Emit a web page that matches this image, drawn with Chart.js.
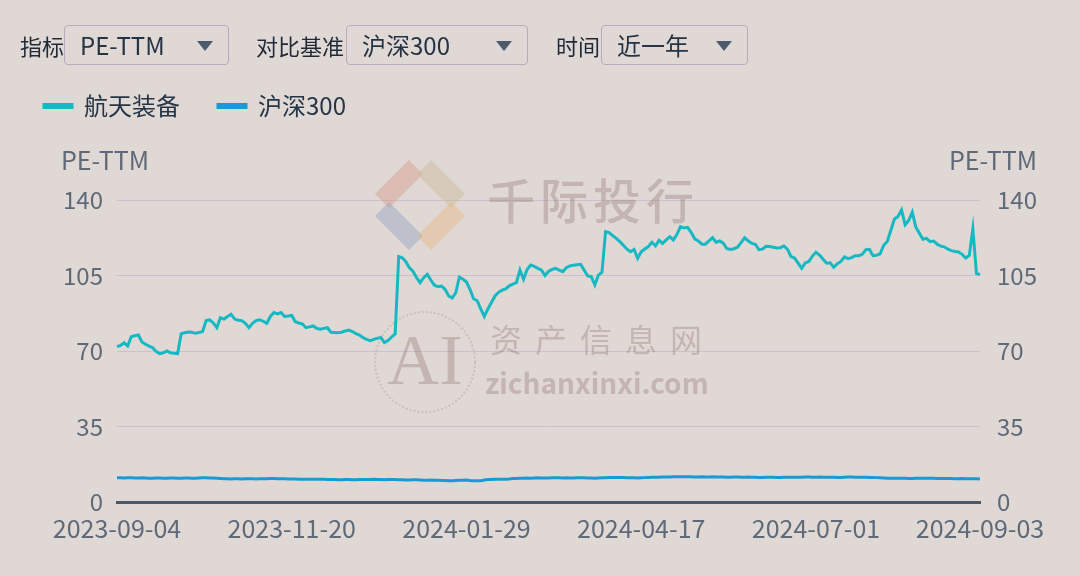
<!DOCTYPE html>
<html>
<head>
<meta charset="utf-8">
<script src="https://cdn.jsdelivr.net/npm/chart.js@4.4.0/dist/chart.umd.min.js"></script>
<style>
  html, body { margin: 0; padding: 0; background: #e0d8d5; width: 1080px; height: 576px; overflow: hidden;
    font-family: "Noto Sans CJK SC", "Noto Sans", sans-serif; }
  #wrap { position: relative; width: 1080px; height: 576px; }
  #chart { position: absolute; left: 0; top: 0; }
  .lbl { position: absolute; top: 25px; height: 40px; line-height: 40px; font-size: 22px; color: #1f2a36; }
  .sel { position: absolute; top: 25px; height: 38px; border: 1px solid #b4acb8; border-radius: 4px;
    font-size: 24px; line-height: 38px; color: #243444; padding-left: 15px; box-sizing: content-box; }
  .sel::after { content: ""; position: absolute; right: 15px; top: 15px; border-left: 8px solid transparent;
    border-right: 8px solid transparent; border-top: 10px solid #4b5b6b; }
</style>
</head>
<body>
<div id="wrap">
  <canvas id="chart" width="1080" height="576"></canvas>
  <div class="lbl" style="left:20px">指标</div>
  <div class="sel" style="left:64px;width:148px">PE-TTM</div>
  <div class="lbl" style="left:256px">对比基准</div>
  <div class="sel" style="left:346px;width:165px">沪深300</div>
  <div class="lbl" style="left:556px">时间</div>
  <div class="sel" style="left:601px;width:130px">近一年</div>
</div>
<script>
// 交易日（周末与休市日除外）
const startDate = '2023-09-04';
const endDate   = '2024-09-03';
const holidays = ['2023-09-29','2023-10-02','2023-10-03','2023-10-04','2023-10-05','2023-10-06',
  '2024-01-01','2024-02-09','2024-02-12','2024-02-13','2024-02-14','2024-02-15','2024-02-16',
  '2024-04-04','2024-04-05','2024-05-01','2024-05-02','2024-05-03','2024-06-10'];
const labelStep = 49;
const yTicks = [0, 35, 70, 105, 140];
const seriesNames = ['航天装备', '沪深300'];
const axisName = 'PE-TTM';

// 航天装备 PE-TTM
const hangtian = [
  72.0, 72.6, 73.8, 72.3, 76.6, 77.1, 77.4, 74.2, 73.1, 72.3,
  71.5, 69.7, 68.8, 69.2, 70.0, 69.2, 68.9, 68.8, 78.0, 78.5,
  78.8, 78.7, 78.2, 78.6, 79.0, 84.1, 84.4, 83.0, 80.8, 85.4,
  84.8, 86.0, 87.0, 84.8, 84.3, 84.1, 82.8, 80.8, 82.8, 84.1,
  84.5, 83.8, 82.8, 86.0, 87.8, 87.2, 87.8, 86.0, 86.2, 86.5,
  83.6, 83.0, 82.5, 80.8, 81.2, 81.6, 80.5, 80.1, 80.5, 80.8,
  78.7, 78.6, 78.5, 78.7, 79.3, 79.7, 79.0, 78.0, 77.4, 76.2,
  75.4, 74.8, 75.4, 75.9, 76.2, 73.9, 74.8, 76.5, 77.9, 113.8,
  113.2, 111.4, 108.6, 107.0, 104.0, 101.7, 104.0, 105.5, 102.9, 100.5,
  99.8, 100.1, 98.6, 95.5, 94.6, 97.0, 104.3, 103.3, 102.0, 98.5,
  94.2, 93.3, 89.5, 86.0, 89.5, 92.5, 95.5, 97.2, 98.2, 98.8,
  100.2, 101.0, 101.7, 107.6, 103.3, 107.8, 109.8, 109.2, 108.3, 107.6,
  105.0, 106.9, 107.8, 108.3, 107.5, 106.8, 108.6, 109.4, 109.8, 110.0,
  110.2, 107.5, 104.8, 104.5, 100.6, 105.2, 106.5, 125.3, 124.9, 123.5,
  122.2, 120.7, 119.0, 117.2, 116.0, 117.1, 113.0, 116.0, 117.3, 118.4,
  120.4, 118.7, 121.3, 119.9, 121.5, 123.0, 121.5, 124.0, 127.6, 127.0,
  127.3, 125.0, 122.0, 121.0, 119.5, 119.5, 121.0, 122.5, 120.4, 121.0,
  120.0, 117.5, 117.1, 117.4, 118.1, 120.2, 122.5, 121.1, 119.9, 119.5,
  117.0, 117.2, 118.5, 118.4, 118.1, 117.8, 117.9, 118.7, 117.2, 113.8,
  113.1, 110.7, 108.3, 110.8, 111.5, 114.0, 115.8, 114.5, 112.5, 110.7,
  110.9, 108.8, 110.5, 111.5, 113.6, 112.8, 113.3, 114.2, 114.2, 114.8,
  117.0, 117.1, 114.2, 114.4, 115.0, 119.0, 120.8, 126.0, 131.2, 132.4,
  135.4, 128.5, 130.5, 134.3, 127.5, 124.6, 121.8, 122.2, 120.7, 121.0,
  119.5, 118.6, 118.3, 117.2, 116.5, 116.1, 115.9, 114.8, 113.1, 114.3,
  126.6, 106.0, 105.4
];

// 沪深300 PE-TTM
const hs300 = [
  11.2, 11.2, 11.1, 11.2, 11.2, 11.1, 11.1, 11.2, 11.1, 11.0,
  11.0, 11.1, 11.1, 11.0, 11.0, 11.1, 11.1, 11.0, 11.0, 11.1,
  11.1, 11.0, 11.0, 11.1, 11.2, 11.2, 11.1, 11.1, 11.0, 10.9,
  10.8, 10.8, 10.7, 10.8, 10.8, 10.7, 10.8, 10.8, 10.8, 10.7,
  10.8, 10.8, 10.8, 10.9, 10.9, 10.8, 10.8, 10.8, 10.7, 10.7,
  10.7, 10.6, 10.6, 10.6, 10.5, 10.5, 10.6, 10.5, 10.5, 10.4,
  10.4, 10.4, 10.3, 10.3, 10.4, 10.4, 10.3, 10.3, 10.4, 10.4,
  10.4, 10.4, 10.5, 10.4, 10.4, 10.3, 10.4, 10.4, 10.4, 10.3,
  10.3, 10.2, 10.2, 10.3, 10.3, 10.2, 10.1, 10.1, 10.2, 10.1,
  10.1, 10.0, 10.0, 9.9, 9.9, 10.0, 10.1, 10.1, 10.2, 10.0,
  9.9, 9.8, 9.9, 10.2, 10.4, 10.4, 10.5, 10.6, 10.6, 10.6,
  10.7, 10.9, 10.9, 11.0, 11.0, 11.1, 11.0, 11.1, 11.2, 11.1,
  11.1, 11.1, 11.2, 11.2, 11.2, 11.1, 11.2, 11.1, 11.1, 11.2,
  11.2, 11.2, 11.1, 11.1, 11.0, 11.1, 11.2, 11.2, 11.3, 11.3,
  11.3, 11.3, 11.3, 11.2, 11.2, 11.2, 11.1, 11.2, 11.3, 11.4,
  11.5, 11.5, 11.5, 11.6, 11.6, 11.6, 11.7, 11.7, 11.7, 11.7,
  11.7, 11.7, 11.6, 11.6, 11.7, 11.6, 11.6, 11.7, 11.6, 11.6,
  11.6, 11.5, 11.5, 11.6, 11.6, 11.5, 11.5, 11.6, 11.5, 11.5,
  11.4, 11.4, 11.5, 11.5, 11.5, 11.4, 11.4, 11.5, 11.5, 11.5,
  11.5, 11.5, 11.5, 11.6, 11.6, 11.5, 11.5, 11.6, 11.5, 11.5,
  11.5, 11.5, 11.4, 11.4, 11.5, 11.6, 11.6, 11.5, 11.5, 11.5,
  11.5, 11.4, 11.4, 11.3, 11.2, 11.1, 11.0, 11.0, 11.0, 11.0,
  11.0, 11.0, 10.9, 10.9, 11.0, 11.0, 11.0, 11.0, 11.0, 11.0,
  10.9, 10.9, 10.9, 10.9, 10.9, 10.8, 10.8, 10.9, 10.8, 10.8,
  10.8, 10.8, 10.7
];

function buildTradingDays(start, end, skip) {
  const out = [];
  const d = new Date(start + 'T00:00:00Z');
  const last = new Date(end + 'T00:00:00Z');
  while (d <= last) {
    const s = d.toISOString().slice(0, 10);
    const w = d.getUTCDay();
    if (w !== 0 && w !== 6 && !skip.includes(s)) out.push(s);
    d.setUTCDate(d.getUTCDate() + 1);
  }
  return out;
}
const dates = buildTradingDays(startDate, endDate, holidays);

const FONT = "'Noto Sans CJK SC', 'Noto Sans', sans-serif";
const tickColor = '#5f6a79';

// 凡例の下に余白を足す
const legendSpacer = {
  id: 'legendSpacer',
  beforeInit(chart) {
    const fit = chart.legend.fit;
    chart.legend.fit = function() { fit.call(this); this.height += 72; };
  }
};

// 水印
const watermark = {
  id: 'watermark',
  beforeDatasetsDraw(chart) {
    const ctx = chart.ctx;
    ctx.save();
    // logo
    const cx = 420, cy = 205, r = 42;
    ctx.lineWidth = 20;
    ctx.lineCap = 'butt';
    const seg = (x1, y1, x2, y2, c) => {
      ctx.strokeStyle = c;
      ctx.beginPath(); ctx.moveTo(x1, y1); ctx.lineTo(x2, y2); ctx.stroke();
    };
    seg(cx - r + 4, cy - 4, cx - 4, cy - r + 4, 'rgba(214,150,130,0.40)');
    seg(cx + 4, cy - r + 4, cx + r - 4, cy - 4, 'rgba(200,186,140,0.40)');
    seg(cx - r + 4, cy + 4, cx - 4, cy + r - 4, 'rgba(140,160,190,0.40)');
    seg(cx + 4, cy + r - 4, cx + r - 4, cy + 4, 'rgba(230,180,120,0.40)');
    ctx.fillStyle = 'rgba(150,120,120,0.38)';
    ctx.textBaseline = 'middle';
    ctx.textAlign = 'left';
    ctx.font = `500 48px ${FONT}`;
    ctx.letterSpacing = '5px';
    ctx.fillText('千际投行', 487, 201);
    ctx.font = `32px ${FONT}`;
    ctx.letterSpacing = '13px';
    ctx.fillText('资产信息网', 490, 340);
    ctx.letterSpacing = '0px';
    ctx.font = `bold 28px ${FONT}`;
    ctx.fillText('zichanxinxi.com', 485, 383);
    ctx.font = `72px 'Liberation Serif', serif`;
    ctx.textAlign = 'center';
    ctx.fillText('AI', 425, 365);
    ctx.strokeStyle = 'rgba(170,150,150,0.35)';
    ctx.lineWidth = 2;
    ctx.setLineDash([2, 2]);
    ctx.beginPath(); ctx.arc(425, 362, 50, 0, Math.PI * 2); ctx.stroke();
    ctx.restore();
  }
};

// 軸名
const axisNames = {
  id: 'axisNames',
  afterDraw(chart) {
    const {ctx, chartArea} = chart;
    ctx.save();
    ctx.font = `25px ${FONT}`;
    ctx.fillStyle = tickColor;
    ctx.textAlign = 'center';
    ctx.textBaseline = 'middle';
    ctx.fillText(axisName, chartArea.left - 12, chartArea.top - 40);
    ctx.fillText(axisName, chartArea.right + 13, chartArea.top - 40);
    ctx.restore();
  }
};

const ctx = document.getElementById('chart').getContext('2d');
new Chart(ctx, {
  type: 'line',
  data: {
    labels: dates,
    datasets: [
      {
        label: seriesNames[0],
        data: hangtian,
        borderColor: '#16b9c2',
        backgroundColor: '#16b9c2',
        borderWidth: 3,
        pointRadius: 0,
        tension: 0,
        yAxisID: 'y'
      },
      {
        label: seriesNames[1],
        data: hs300,
        borderColor: '#1a9ad4',
        backgroundColor: '#1a9ad4',
        borderWidth: 3,
        pointRadius: 0,
        tension: 0,
        yAxisID: 'y1'
      }
    ]
  },
  options: {
    responsive: false,
    animation: false,
    layout: { padding: { top: 56, left: 6, right: 0, bottom: 0 } },
    plugins: {
      tooltip: { enabled: false },
      legend: {
        align: 'start',
        labels: {
          boxWidth: 28,
          boxHeight: 3,
          padding: 38,
          color: '#263646',
          font: { size: 24, family: FONT }
        }
      }
    },
    scales: {
      x: {
        grid: { display: false, drawTicks: false },
        border: { display: true, color: '#4a5869', width: 3 },
        ticks: {
          autoSkip: false,
          maxRotation: 0,
          minRotation: 0,
          padding: 11,
          color: tickColor,
          font: { size: 25, family: FONT },
          callback: (v, i, ticks) => (i % labelStep === 0 || i === ticks.length - 1) ? dates[i] : ''
        },
        afterFit: s => { s.height = 74; }
      },
      y: {
        position: 'left',
        min: yTicks[0],
        max: yTicks[yTicks.length - 1],
        afterBuildTicks: s => { s.ticks = yTicks.map(v => ({ value: v })); },
        grid: { color: c => c.tick.value === 0 ? 'rgba(0,0,0,0)' : '#cbc1cc', drawTicks: false },
        border: { display: false },
        ticks: { padding: 14, color: tickColor, font: { size: 24, family: FONT } },
        afterFit: s => { s.width = 111; }
      },
      y1: {
        position: 'right',
        min: yTicks[0],
        max: yTicks[yTicks.length - 1],
        afterBuildTicks: s => { s.ticks = yTicks.map(v => ({ value: v })); },
        grid: { drawOnChartArea: false, drawTicks: false },
        border: { display: false },
        ticks: { padding: 17, color: tickColor, font: { size: 24, family: FONT } },
        afterFit: s => { s.width = 100; }
      }
    }
  },
  plugins: [legendSpacer, watermark, axisNames]
});
</script>
</body>
</html>
